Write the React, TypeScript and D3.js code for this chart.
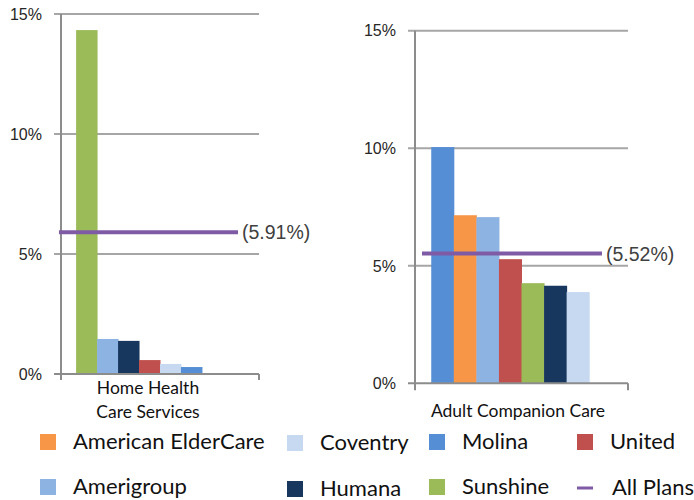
import React from "react";
import * as d3 from "d3";

// plan names and colours
const plans = ["American ElderCare", "Coventry", "Molina", "United", "Amerigroup", "Humana", "Sunshine"];
const planColors = ["#F79646", "#C6D9F1", "#558ED5", "#C0504D", "#8DB3E2", "#17375E", "#9BBB59"];
const allPlansColor = "#7F5BA6";

// Home Health Care Services (percent), sorted as drawn
const homeHealthPlans = ["Sunshine", "Amerigroup", "Humana", "United", "Coventry", "Molina"];
const homeHealthValues = [14.33, 1.46, 1.38, 0.58, 0.42, 0.29];

// Adult Companion Care (percent)
const companionPlans = ["Molina", "American ElderCare", "Amerigroup", "United", "Sunshine", "Humana", "Coventry"];
const companionValues = [10.05, 7.15, 7.07, 5.28, 4.26, 4.15, 3.88];

const allPlansValues = [5.91, 5.52];
const categoryLabels = [["Home Health", "Care Services"], ["Adult Companion Care"]];
const yTicks = [0, 5, 10, 15];

const legendRows = [
  ["American ElderCare", "Coventry", "Molina", "United"],
  ["Amerigroup", "Humana", "Sunshine", "All Plans"],
];

const colorOf = (name: string) => planColors[plans.indexOf(name)];

const panels = [
  {
    names: homeHealthPlans, values: homeHealthValues, avg: allPlansValues[0], label: categoryLabels[0],
    x0: 61, x1: 259, top: 14, bottom: 374, lineFrom: -2, lineTo: 177, labelCx: 148, labelY: 394, axisDrop: 6,
  },
  {
    names: companionPlans, values: companionValues, avg: allPlansValues[1], label: categoryLabels[1],
    x0: 415, x1: 628, top: 30.7, bottom: 383.3, lineFrom: 7, lineTo: 187, labelCx: 518, labelY: 417, axisDrop: 7,
  },
];

const gridColor = "#A6A6A6";
const axisColor = "#8C8C8C";
const tickFont = "'Liberation Sans', Arial, sans-serif";
const labelFont = "Lato, 'Open Sans', sans-serif";

function Panel({ p }: { p: (typeof panels)[number] }) {
  const y = d3.scaleLinear().domain([0, 15]).range([p.bottom, p.top]);
  const slot = d3.scaleBand<number>().domain(d3.range(8)).range([p.x0, p.x1]).paddingOuter(0.72).paddingInner(0);
  const lineY = y(p.avg);
  return (
    <g>
      {yTicks.map((t) => (
        <g key={t}>
          {t > 0 && <line x1={p.x0 - 7} x2={p.x1} y1={y(t)} y2={y(t)} stroke={gridColor} strokeWidth={2} />}
          <text x={p.x0 - 19} y={y(t)} dy="0.36em" textAnchor="end" fontFamily={tickFont} fontSize={16} fill="#262626">
            {t}%
          </text>
        </g>
      ))}
      {p.values.map((v, i) => (
        <rect key={i} x={slot(i)!} width={slot.bandwidth() + 0.5} y={y(v)} height={p.bottom - y(v)} fill={colorOf(p.names[i])} />
      ))}
      <line x1={p.x0} x2={p.x0} y1={p.top} y2={p.bottom + p.axisDrop} stroke={axisColor} strokeWidth={2} />
      <line x1={p.x0 - 7} x2={p.x1} y1={p.bottom} y2={p.bottom} stroke={axisColor} strokeWidth={2} />
      <line x1={p.x1} x2={p.x1} y1={p.bottom} y2={p.bottom + p.axisDrop} stroke={axisColor} strokeWidth={2} />
      <line x1={p.x0 + p.lineFrom} x2={p.x0 + p.lineTo} y1={lineY} y2={lineY} stroke={allPlansColor} strokeWidth={4} />
      <text x={p.x0 + p.lineTo + 4} y={lineY} dy="0.36em" fontFamily={tickFont} fontSize={19.5} fill="#404040">
        ({p.avg.toFixed(2)}%)
      </text>
      {p.label.map((l, i) => (
        <text key={l} x={p.labelCx} y={p.labelY + i * 24} textAnchor="middle" fontFamily={labelFont} fontSize={17.5} fill="#111">
          {l}
        </text>
      ))}
    </g>
  );
}

// legend swatch left edges and row centres
const legendCols = [40, 287, 429, 577];
const legendRowY = [[442, 443, 442, 442], [487, 489, 487, 488]];

export default function App() {
  return (
    <svg width={694} height={500} style={{ position: "absolute", left: 0, top: 0, background: "#fff" }}>
      {panels.map((p, i) => (
        <Panel key={i} p={p} />
      ))}
      {legendRows.map((row, r) =>
        row.map((name, c) => {
          const sx = legendCols[c];
          const cy = legendRowY[r][c];
          const isLine = name === "All Plans";
          return (
            <g key={name}>
              {isLine ? (
                <line x1={sx} x2={sx + 16} y1={cy} y2={cy} stroke={allPlansColor} strokeWidth={3} />
              ) : (
                <rect x={sx} y={cy - 8} width={16} height={16} fill={colorOf(name)} />
              )}
              <text x={sx + (isLine ? 35 : 33)} y={cy + 7} fontFamily={labelFont} fontSize={22} fill="#111">
                {name}
              </text>
            </g>
          );
        })
      )}
    </svg>
  );
}
